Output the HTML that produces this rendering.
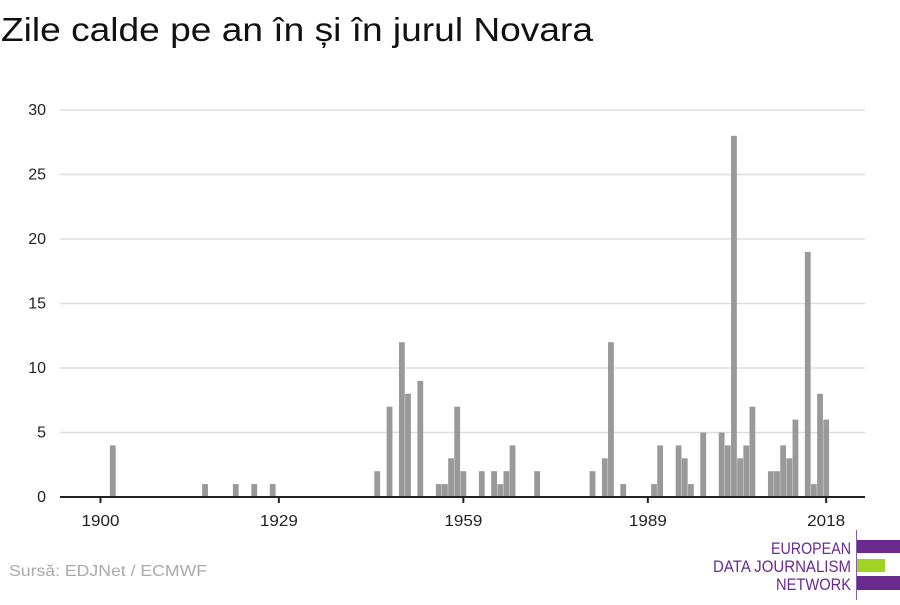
<!DOCTYPE html>
<html><head><meta charset="utf-8"><style>
body{margin:0;background:#fff;width:900px;height:600px;overflow:hidden;font-family:"Liberation Sans",sans-serif}
</style></head><body>
<svg width="900" height="600" xmlns="http://www.w3.org/2000/svg">
<text x="1" y="41" font-size="33" fill="#111" textLength="592" lengthAdjust="spacingAndGlyphs">Zile calde pe an în și în jurul Novara</text>
<g id="grid"></g><g id="bars"></g><g id="axis"></g>
<text x="9" y="576" font-size="16" fill="#aaa" textLength="198" lengthAdjust="spacingAndGlyphs">Sursă: EDJNet / ECMWF</text>
<g>
<line x1="856.5" y1="530" x2="856.5" y2="600" stroke="#8a5bab" stroke-width="1"/>
<rect x="857" y="540" width="43" height="13" fill="#6a2a8e"/>
<rect x="857" y="559" width="28" height="13" fill="#9fd324"/>
<rect x="857" y="576" width="43" height="14" fill="#6a2a8e"/>
<g font-size="17" fill="#6a2a8e" text-anchor="end" lengthAdjust="spacingAndGlyphs">
<text x="851" y="554" textLength="80" lengthAdjust="spacingAndGlyphs">EUROPEAN</text><text x="851" y="572" textLength="138" lengthAdjust="spacingAndGlyphs">DATA JOURNALISM</text><text x="851" y="590" textLength="75" lengthAdjust="spacingAndGlyphs">NETWORK</text></g>
</g>
</svg>
<script>
const years=[1902,1917,1922,1925,1928,1945,1947,1949,1950,1952,1955,1956,1957,1958,1959,1962,1964,1965,1966,1967,1971,1980,1982,1983,1985,1990,1991,1994,1995,1996,1998,2001,2002,2003,2004,2005,2006,2009,2010,2011,2012,2013,2015,2016,2017,2018];
const values=[4,1,1,1,1,2,7,12,8,9,1,1,3,7,2,2,2,1,2,4,2,2,3,12,1,1,4,4,3,1,5,5,4,28,3,4,7,2,2,4,3,6,19,1,8,6];
const yTicks=[0,5,10,15,20,25,30];
const xTicks=[1900,1929,1959,1989,2018];
const NS="http://www.w3.org/2000/svg";
const X=y=>100.5+(y-1900)*6.15;
const Y=v=>497-v*12.9;
function mk(t,a,p){const e=document.createElementNS(NS,t);for(const k in a)e.setAttribute(k,a[k]);p.appendChild(e);return e;}
const g=document.getElementById('grid'),b=document.getElementById('bars'),ax=document.getElementById('axis');
yTicks.forEach(v=>{
 if(v>0){const l=mk('line',{x1:60,x2:865,y1:Y(v),y2:Y(v),stroke:'#ddd','stroke-width':1.5},g);
 
 }
 const t=mk('text',{x:46,y:Y(v)+5,'font-size':16,fill:'#222','text-anchor':'end'},g);t.textContent=v;
 
 
});
years.forEach((yr,i)=>{
 const r=mk('rect',{x:X(yr)-2.9,y:Y(values[i]),width:5.8,height:values[i]*12.9,fill:'#999'},b);
 
 
});
const al=mk('line',{x1:60,x2:865,y1:497,y2:497,stroke:'#222','stroke-width':2},ax);


xTicks.forEach(yr=>{
 mk('line',{x1:X(yr),x2:X(yr),y1:497,y2:503,stroke:'#222','stroke-width':2},ax);
 const t=mk('text',{x:X(yr),y:526,'font-size':16,fill:'#222','text-anchor':'middle',textLength:38,lengthAdjust:'spacingAndGlyphs'},ax);t.textContent=yr;
 
 
});
</script>
</body></html>
